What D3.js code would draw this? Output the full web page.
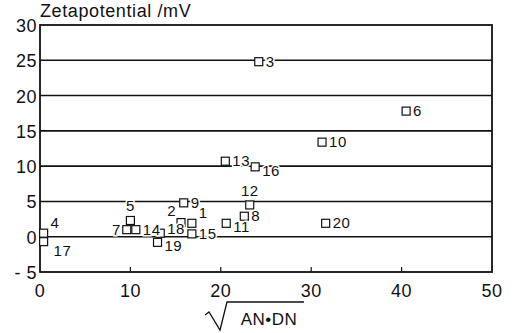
<!DOCTYPE html>
<html>
<head>
<meta charset="UTF-8">
<title>Zetapotential</title>
<script src="https://d3js.org/d3.v7.min.js"></script>
<style>
  body { margin: 0; background: #fff; }
  svg text { font-family: "Liberation Sans", Arial, sans-serif; fill: #111; }
  .grid { stroke: #111; stroke-width: 1.6px; }
  .pt { fill: #fff; stroke: #111; stroke-width: 1.2px; }
  .lbl { font-size: 15px; paint-order: stroke; stroke: #fff; stroke-width: 3px; letter-spacing: 0.5px; }
  .tick { font-size: 18px; letter-spacing: 0.5px; }
</style>
</head>
<body>
<div id="chart"></div>
<script>
// data
const ids   = [1, 2, 3, 4, 5, 6, 7, 8, 9, 10, 11, 12, 13, 14, 15, 16, 17, 18, 19, 20];
const xVals = [16.8, 15.6, 24.2, 0.4, 10.0, 40.5, 9.6, 22.6, 15.9, 31.2, 20.6, 23.2, 20.5, 10.6, 16.8, 23.8, 0.4, 13.3, 13.0, 31.6];
const yVals = [1.9, 2.0, 24.8, 0.5, 2.3, 17.8, 1.0, 2.9, 4.8, 13.4, 1.9, 4.5, 10.7, 1.0, 0.4, 9.9, -0.7, 0.5, -0.8, 1.9];
// where each number sits next to its square
const labelPos = ["ur", "ul", "r", "ur", "t", "r", "l", "r", "r", "r", "rd", "t", "r", "r", "r", "rd", "dr", "ru", "rd", "r"];
const xTicks = [0, 10, 20, 30, 40, 50];
const yTicks = [-5, 0, 5, 10, 15, 20, 25, 30];
const gridLines = [0, 5, 10, 15, 20, 25];

const W = 517, H = 333;
const margin = {top: 25, right: 25, bottom: 61, left: 40};

const svg = d3.select("#chart").append("svg")
    .attr("width", W).attr("height", H);

const x = d3.scaleLinear().domain([0, 50]).range([margin.left, W - margin.right]);
const y = d3.scaleLinear().domain([-5, 30]).range([H - margin.bottom, margin.top]);

// horizontal lines
svg.selectAll(".grid").data(gridLines).join("line")
    .attr("class", "grid")
    .attr("x1", x(0)).attr("x2", x(50))
    .attr("y1", d => y(d)).attr("y2", d => y(d));

// frame
svg.append("rect")
    .attr("x", x(0)).attr("y", y(30))
    .attr("width", x(50) - x(0)).attr("height", y(-5) - y(30))
    .attr("fill", "none").attr("stroke", "#111").attr("stroke-width", 1.8);

// x ticks pointing inwards
svg.selectAll(".xt").data(xTicks.slice(1, -1)).join("line")
    .attr("x1", d => x(d)).attr("x2", d => x(d))
    .attr("y1", y(-5)).attr("y2", y(-5) - 5)
    .attr("stroke", "#111").attr("stroke-width", 1.2);

svg.selectAll(".xl").data(xTicks).join("text")
    .attr("class", "tick")
    .attr("x", d => x(d)).attr("y", y(-5) + 25)
    .attr("text-anchor", "middle")
    .text(d => d);

svg.selectAll(".yl").data(yTicks).join("text")
    .attr("class", "tick")
    .attr("x", x(0) - 3).attr("y", d => y(d) + 7)
    .attr("text-anchor", "end")
    .text(d => d === -5 ? "- 5" : d);

// title
svg.append("text")
    .attr("x", x(0)).attr("y", 17)
    .attr("font-size", 18)
    .attr("letter-spacing", 0.6)
    .text("Zetapotential /mV");

// x axis label with radical sign
svg.append("path")
    .attr("d", "M205,315 L209,312 L220,330 L227,302 L304,302")
    .attr("fill", "none").attr("stroke", "#111").attr("stroke-width", 1.3);
svg.append("text")
    .attr("x", 269).attr("y", 325)
    .attr("text-anchor", "middle")
    .attr("font-size", 17)
    .attr("letter-spacing", 0.5)
    .text("AN\u2022DN");

// points
const pts = ids.map((id, i) => ({id, x: xVals[i], y: yVals[i], pos: labelPos[i]}));
const s = 8;

svg.selectAll(".pt").data(pts).join("rect")
    .attr("class", "pt")
    .attr("x", d => x(d.x) - s / 2).attr("y", d => y(d.y) - s / 2)
    .attr("width", s).attr("height", s);

const offs = {
  r:  [7, 5, "start"],
  rd: [7, 9, "start"],
  ru: [7, 1, "start"],
  ur: [7, -5, "start"],
  ul: [-5, -7, "end"],
  dr: [10, 14, "start"],
  t:  [0, -9, "middle"],
  l:  [-6, 5, "end"]
};

svg.selectAll(".lbl").data(pts).join("text")
    .attr("class", "lbl")
    .attr("x", d => x(d.x) + offs[d.pos][0])
    .attr("y", d => y(d.y) + offs[d.pos][1])
    .attr("text-anchor", d => offs[d.pos][2])
    .text(d => d.id);
</script>
</body>
</html>
